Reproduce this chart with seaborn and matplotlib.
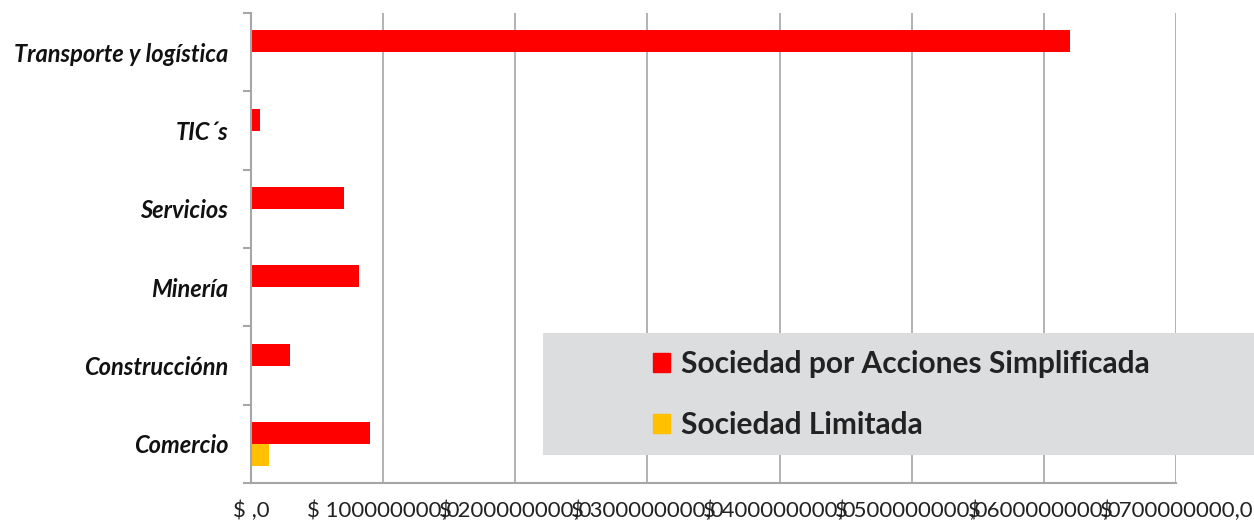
import pandas as pd
import matplotlib.pyplot as plt
import matplotlib.patches as mpatches
import seaborn as sns

categories = ["Transporte y logística", "TIC´s", "Servicios", "Minería", "Construcciónn", "Comercio"]
sas_values = [620000000, 6800000, 70000000, 82000000, 29700000, 90000000]
ltda_values = [0, 0, 0, 0, 0, 13400000]
series = ["Sociedad por Acciones Simplificada", "Sociedad Limitada"]
tick_values = [0, 100000000, 200000000, 300000000, 400000000, 500000000, 600000000, 700000000]
tick_labels = ["$ ,0"] + [f"$ {v},0" for v in tick_values[1:]]

df = pd.DataFrame({
    "sector": categories * 2,
    "valor": sas_values + ltda_values,
    "tipo": [series[0]] * len(categories) + [series[1]] * len(categories),
})

sns.set_theme(style="white")
plt.rcParams['font.family'] = ['Lato', 'DejaVu Sans']

fig = plt.figure(figsize=(12.54, 5.23), dpi=100)
ax = fig.add_axes([251 / 1254, 1 - 483 / 523, (1176 - 251) / 1254, (483 - 13) / 523])

palette = {series[0]: "#FF0000", series[1]: "#FFC000"}
sns.barplot(data=df, y="sector", x="valor", hue="tipo", order=categories, hue_order=series,
            palette=palette, width=0.56, orient="h", ax=ax, legend=False,
            linewidth=0, saturation=1)

ax.set_xlim(0, 700000000)
ax.set_ylim(len(categories) - 0.5, -0.5)
ax.set_xticks(tick_values)
ax.set_xticklabels(tick_labels, fontsize=16, color="#222222")
ax.set_yticklabels(categories, fontsize=17, fontweight="bold", style="italic", color="#111111")
ax.set_xlabel("")
ax.set_ylabel("")

# gridlines and axis styling like the original
ax.xaxis.grid(True, color="#a6a6a6", linewidth=1.2)
ax.set_axisbelow(True)
for side in ["top", "right"]:
    ax.spines[side].set_visible(False)
for side in ["left", "bottom"]:
    ax.spines[side].set_color("#a6a6a6")
    ax.spines[side].set_linewidth(1.5)

# y ticks between categories, x ticks down
ax.set_yticks([i - 0.5 for i in range(len(categories) + 1)], minor=True)
ax.tick_params(axis="y", which="major", length=0, pad=16.5)
ax.tick_params(axis="y", which="minor", length=6, color="#a6a6a6", width=1.5, direction="out")
ax.tick_params(axis="x", length=6, color="#a6a6a6", width=1.5, direction="out", pad=7)
ax.tick_params(left=True, which="minor")

# legend box
box = mpatches.Rectangle((543 / 1254, 1 - 455 / 523), (1254 - 543) / 1254, (455 - 333) / 523,
                         transform=fig.transFigure, facecolor="#dcdddf", edgecolor="none", zorder=3)
fig.patches.append(box)
handles = [mpatches.Patch(color=palette[s]) for s in series]
leg = fig.legend(handles, series, loc="upper left", bbox_to_anchor=(653 / 1254, 1 - 350 / 523),
                 frameon=False, prop={"size": 21.5, "weight": "bold"}, handlelength=0.58,
                 handleheight=0.6, handletextpad=0.35, labelspacing=1.1,
                 borderpad=0, borderaxespad=0)
leg.set_zorder(4)
for t in leg.get_texts():
    t.set_color("#222222")

fig.savefig("out.png", dpi=100)
